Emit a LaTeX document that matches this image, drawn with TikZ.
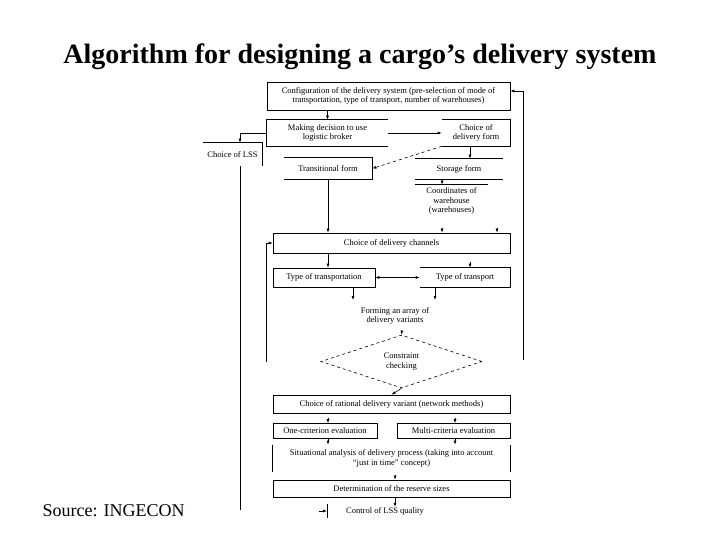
\documentclass[tikz,border=0pt]{standalone}
\usepackage{fontspec}
\setmainfont{Liberation Serif}
\usetikzlibrary{calc,arrows.meta,shapes.geometric}
\tikzset{
  box/.style={draw,inner sep=0pt,align=center,font=\fontsize{8.5}{9.8}\selectfont},
  openbox/.style={inner sep=0pt,align=center,font=\fontsize{8.5}{9.8}\selectfont},
  arr/.style={-{Latex[length=4pt,width=3pt]}},
  dblarr/.style={{Latex[length=4pt,width=3pt]}-{Latex[length=4pt,width=3pt]}}
}

\begin{document}
\begin{tikzpicture}[x=1pt,y=-1pt,line width=0.6pt]
\useasboundingbox (0,0) rectangle (720,540);
\node[font=\fontsize{28}{31}\selectfont\bfseries] (title) at (360,57) {Algorithm for designing a cargo’s delivery system};
\node[font=\fontsize{18}{20}\selectfont,anchor=west] (src) at (39,511) {Source: INGECON};

\node[box,minimum width=243pt,minimum height=28pt] (conf) at (388.5,96) {Configuration of the delivery system (pre-selection of mode of\\transportation, type of transport, number of warehouses)};
\node[openbox,minimum width=121pt,minimum height=26pt] (broker) at (327.5,133) {Making decision to use\\logistic broker};
\node[openbox,minimum width=68pt,minimum height=26pt] (form) at (476,133) {Choice of\\delivery form};
\node[openbox,minimum width=59pt,minimum height=23pt] (lss) at (232.5,154.5) {Choice of LSS};
\node[openbox,minimum width=88pt,minimum height=21pt] (trans) at (328,168.5) {Transitional form};
\node[openbox,minimum width=88pt,minimum height=20pt] (store) at (459,169) {Storage form};
\node[openbox,minimum width=73pt,minimum height=32pt] (coord) at (451.5,201) {Coordinates of\\warehouse\\(warehouses)};
\node[box,minimum width=237pt,minimum height=20pt] (chan) at (391.5,243) {Choice of delivery channels};
\node[box,minimum width=102pt,minimum height=19pt] (tptn) at (324,277.5) {Type of transportation};
\node[openbox,minimum width=90pt,minimum height=19pt] (tpt) at (465,277.5) {Type of transport};
\node[openbox] (array) at (395,316) {Forming an array of\\delivery variants};
\node[diamond,draw,dashed,inner sep=0pt,align=center,font=\fontsize{8.5}{9.8}\selectfont,minimum width=161pt,minimum height=53pt] (check) at (401.5,361.5) {Constraint\\checking};
\node[box,minimum width=237pt,minimum height=18pt] (rat) at (391.5,404) {Choice of rational delivery variant (network methods)};
\node[box,minimum width=104pt,minimum height=15pt] (one) at (325,431) {One-criterion evaluation};
\node[box,minimum width=113pt,minimum height=15pt] (multi) at (453.5,431) {Multi-criteria evaluation};
\node[openbox,minimum width=237pt,minimum height=27pt] (sit) at (391.5,458.5) {Situational analysis of delivery process (taking into account\\“just in time” concept)};
\node[box,minimum width=237pt,minimum height=17pt] (det) at (391.5,488.5) {Determination of the reserve sizes};
\node[openbox] (ctrl) at (385,511) {Control of LSS quality};

\draw (broker.north east) -- (broker.north west) -- (broker.south west) -- (broker.south east);
\draw (form.north west) -- (form.north east) -- (form.south east) -- (form.south west);
\draw (lss.north west) -- (lss.north east) -- (lss.south east);
\draw (trans.north west) -- (trans.north east) -- (trans.south east) -- (trans.south west);
\draw (store.north west) -- (store.north east) (store.south west) -- (store.south east);
\draw (coord.north west) -- (coord.north east);
\draw (tpt.north west) -- (tpt.north east) -- (tpt.south east) -- (tpt.south west);
\draw (sit.north west) -- (sit.south west) (sit.north east) -- (sit.south east);

\coordinate (lssEnd) at (240,510);
\coordinate (loopL) at (266,362);
\coordinate (loopR) at (523,360);
\coordinate (stubA) at (442,228);
\coordinate (stubB) at (497,228);
\coordinate (stubC) at (470,262);
\coordinate (stubD) at (328,418);
\coordinate (stubE) at (455,418);
\coordinate (stubF) at (395,475);
\coordinate (stubG) at (402,330);
\coordinate (arrA) at (353,300);
\coordinate (arrB) at (435,300);
\coordinate (tick) at (327,511);

\draw[arr] (broker.north |- conf.south) -- (broker.north);
\draw[arr] (broker) -- (form);
\draw[arr] (broker.west) -| ([xshift=7.5pt]lss.north);
\draw ([xshift=7.5pt]lss.south) -- (lssEnd);
\draw[arr] ([xshift=-6pt]form.south) -- ([xshift=-6pt]form.south |- store.north);
\draw[arr,dashed] (form.south west) -- (trans.east);
\draw[arr] ([xshift=-17pt]store.south) -- ([xshift=-17pt]store.south |- coord.north);
\draw[arr] (trans.south) -- (trans.south |- chan.north);
\draw[arr] (stubA) -- (stubA |- chan.north);
\draw[arr] (stubB) -- (stubB |- chan.north);
\draw[arr] (loopL) |- (chan.west);
\draw[arr] (loopR) |- ([yshift=5pt]conf.east);
\draw[arr] ([xshift=4pt]chan.south -| tptn.north) -- ([xshift=4pt]tptn.north);
\draw[arr] (stubC) -- (stubC |- tpt.north);
\draw[dblarr] (tptn.east) -- (tpt.west);
\draw[arr] (arrA |- tptn.south) -- (arrA);
\draw[arr] (arrB |- tpt.south) -- (arrB);
\draw[arr] (stubG) -- (check.north);
\draw[arr] (check.south) -- (rat.north);
\draw[arr] (stubD) -- (stubD |- one.north);
\draw[arr] (stubE) -- (stubE |- multi.north);
\draw[arr] ([xshift=3pt]one.south) -- ([xshift=3pt]one.south |- sit.north);
\draw[arr] (stubE |- multi.south) -- (stubE |- sit.north);
\draw[arr] (stubF) -- (stubF |- det.north);
\draw[arr] (det.south -| stubF) -- (stubF |- ctrl.north);
\draw[arr] ([xshift=-8pt]tick) -- (tick);
\draw ([yshift=7pt]tick) -- ([yshift=-7pt]tick);
\end{tikzpicture}
\end{document}
